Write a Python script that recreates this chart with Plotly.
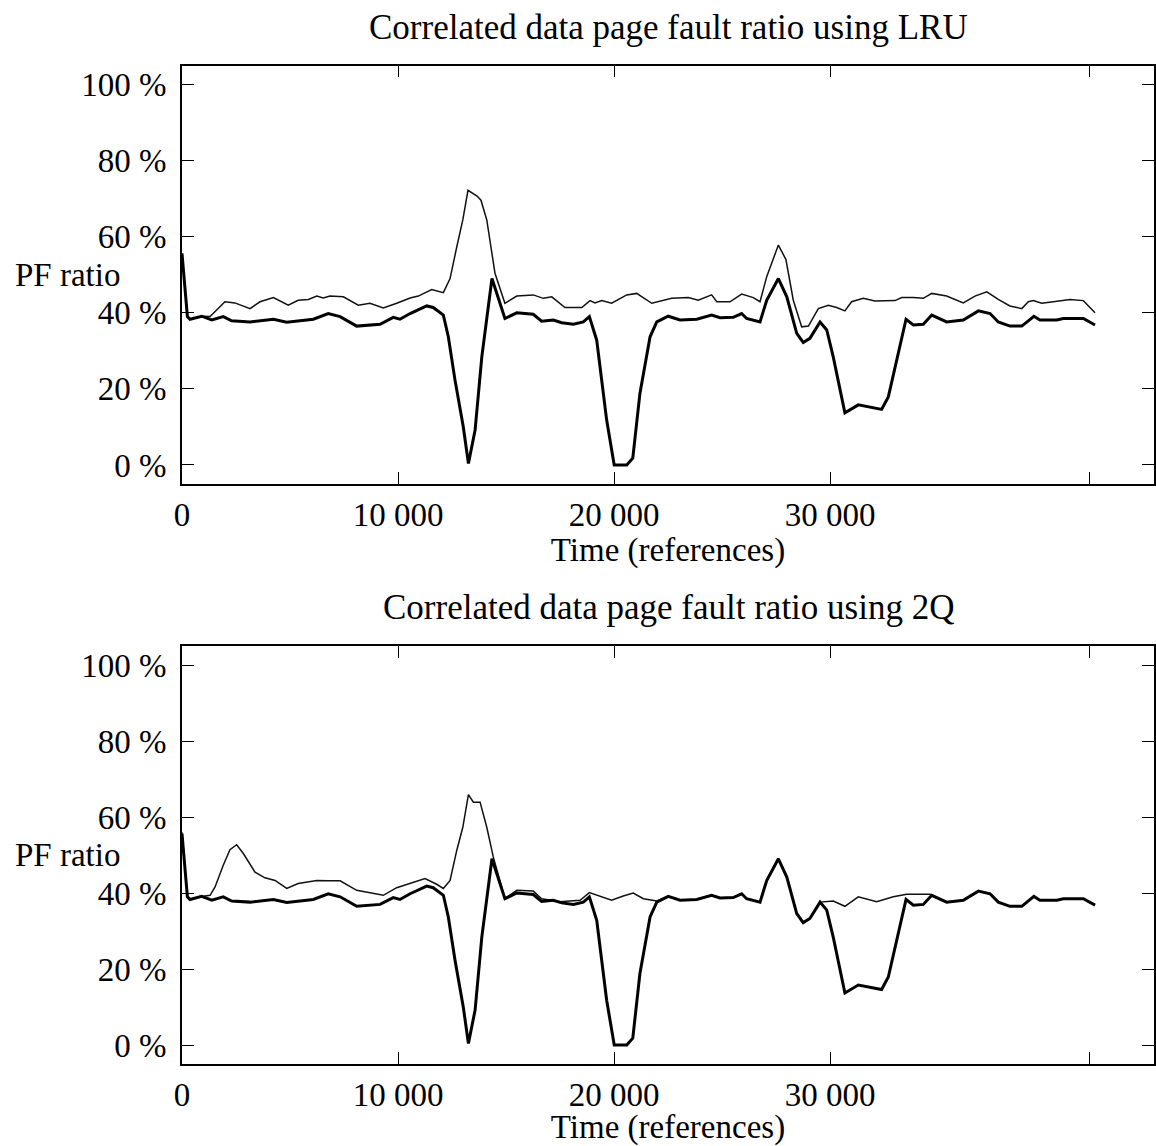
import plotly.graph_objects as go
from plotly.subplots import make_subplots

# ---------------- data ----------------
titles = ["Correlated data page fault ratio using LRU",
          "Correlated data page fault ratio using 2Q"]

# thick curve (same in both panels)
thick_t = [0, 250, 370, 910, 1380, 1910, 2300, 3150, 4230, 4850, 6080, 6770, 7320, 8090, 9170, 9780,
           10090, 10560, 11330, 11630, 12100, 12330, 12640, 13020, 13260, 13570, 13880, 14350, 14950,
           15500, 16260, 16650, 17190, 17580, 18120, 18580, 18860, 19200, 19660, 20010, 20590, 20870,
           21200, 21670, 21980, 22510, 23060, 23830, 24520, 24910, 25520, 25910, 26140, 26760, 27070,
           27610, 28000, 28460, 28760, 29070, 29540, 29850, 30150, 30690, 31310, 31850, 32390, 32700,
           33160, 33520, 33860, 34320, 34710, 35400, 36170, 36870, 37410, 37790, 38330, 38880, 39440,
           39720, 40500, 40800, 41730, 42270]
thick_pf = [55.6, 39.0, 38.3, 39.1, 38.1, 39.0, 37.9, 37.6, 38.3, 37.5, 38.3, 39.8, 39.0, 36.5, 37.0, 38.8,
            38.3, 39.8, 41.8, 41.4, 39.4, 33.7, 22.3, 10.1, 0.4, 9.2, 28.4, 49.0, 38.5,
            40.0, 39.6, 37.8, 38.1, 37.4, 37.0, 37.6, 39.0, 32.8, 11.8, 0.0, 0.0, 1.8,
            18.8, 33.7, 37.6, 39.1, 38.1, 38.3, 39.4, 38.7, 38.8, 39.8, 38.5, 37.6, 43.3,
            49.0, 44.2, 34.6, 32.2, 33.3, 37.6, 35.5, 28.4, 13.7, 15.8, 15.2, 14.6, 17.9,
            29.3, 38.3, 36.8, 37.0, 39.4, 37.6, 38.1, 40.5, 39.8, 37.6, 36.5, 36.5, 39.1,
            38.1, 38.1, 38.5, 38.5, 36.8]

# thin curve, LRU panel
lru_t = [0, 250, 370, 910, 1300, 1990, 2450, 3150, 3610, 4230, 4920, 5380, 5850, 6240, 6540, 6850,
         7470, 7780, 8160, 8700, 9320, 9940, 10560, 10940, 11560, 12100, 12410, 12720, 13000, 13240,
         13660, 13840, 14110, 14490, 14950, 15500, 16260, 16730, 17120, 17730, 18510, 18890, 19120,
         19430, 19890, 20590, 21050, 21750, 22670, 23440, 23900, 24520, 24760, 25370, 25910, 26450,
         26760, 27070, 27610, 27960, 28300, 28690, 29000, 29460, 29920, 30310, 30690, 31000, 31540,
         32080, 33010, 33320, 33860, 34320, 34710, 35400, 36170, 36710, 37260, 37790, 38330, 38880,
         39180, 39410, 39800, 40340, 41110, 41730, 42270]
lru_pf = [55.6, 39.0, 38.3, 39.1, 39.0, 42.9, 42.6, 41.1, 42.9, 44.0, 42.0, 43.3, 43.5, 44.4, 43.9, 44.4,
          44.2, 43.2, 42.0, 42.5, 41.3, 42.5, 43.9, 44.4, 46.1, 45.3, 49.0, 57.3, 64.4, 72.2,
          70.7, 69.6, 64.4, 50.4, 42.5, 44.4, 44.7, 43.8, 44.2, 41.4, 41.4, 43.2, 42.6,
          43.2, 42.5, 44.7, 45.1, 42.5, 43.8, 44.0, 43.3, 44.7, 42.9, 42.9, 44.9, 44.0,
          42.9, 49.5, 57.8, 54.0, 43.3, 36.3, 36.5, 41.1, 42.0, 41.4, 40.5, 42.9, 43.8,
          43.1, 43.2, 44.0, 44.0, 43.8, 45.1, 44.4, 42.6, 44.4, 45.5, 43.5, 41.8, 41.1,
          42.9, 43.2, 42.5, 42.9, 43.5, 43.2, 40.0]

# thin curve, 2Q panel
q2_t = [0, 250, 370, 910, 1300, 1530, 1910, 2220, 2530, 2840, 3380, 3840, 4310, 4850, 5380, 6240,
        6770, 7320, 8090, 8700, 9320, 9940, 10560, 11250, 11790, 12100, 12410, 12720, 13000, 13260,
        13490, 13800, 14110, 14410, 14950, 15500, 16260, 16650, 17500, 18430, 18860, 19350, 19890,
        20430, 20890, 21360, 21980, 22510, 23060, 23830, 24520, 24910, 25520, 25910, 26140, 26760,
        27070, 27610, 28000, 28460, 28760, 29070, 29540, 30150, 30690, 31310, 32160, 32930, 33550,
        34170, 34630, 34710, 35400, 36170, 36870, 37410, 37790, 38330, 38880, 39440, 39720, 40500,
        40800, 41730, 42270]
q2_pf = [56.0, 39.1, 38.3, 39.1, 39.4, 41.6, 47.3, 51.4, 52.7, 50.4, 45.5, 44.0, 43.3, 41.2, 42.5, 43.3,
         43.2, 43.2, 40.7, 40.0, 39.4, 41.4, 42.5, 43.8, 42.3, 41.2, 43.3, 51.2, 57.3, 65.9,
         63.9, 63.9, 57.3, 49.5, 38.5, 40.7, 40.5, 38.5, 37.7, 38.1, 40.1, 39.1, 38.1,
         39.2, 40.0, 38.5, 37.9, 39.1, 38.1, 38.3, 39.4, 38.7, 38.8, 39.8, 38.5, 37.6,
         43.3, 49.0, 44.2, 34.6, 32.2, 33.3, 37.6, 37.9, 36.5, 39.0, 37.7, 39.0, 39.7,
         39.7, 39.7, 39.4, 37.6, 38.1, 40.5, 39.8, 37.6, 36.5, 36.5, 39.1, 38.1, 38.1,
         38.5, 38.5, 36.8]

x_tickvals = [0, 10000, 20000, 30000, 42000]
x_ticktext = ["0", "10 000", "20 000", "30 000", ""]
y_tickvals = [0, 20, 40, 60, 80, 100]
y_ticktext = ["0 %", "20 %", "40 %", "60 %", "80 %", "100 %"]

# ---------------- figure ----------------
W, H = 1156, 1146
FONT = "Liberation Serif"
FS = 33
FS_TITLE = 35

fig = make_subplots(rows=2, cols=1, vertical_spacing=0.1)

for row, (tt, pp) in enumerate([(lru_t, lru_pf), (q2_t, q2_pf)], start=1):
    fig.add_trace(go.Scatter(x=tt, y=pp, mode="lines",
                             line=dict(color="#111111", width=1.5),
                             showlegend=False, hoverinfo="skip"), row=row, col=1)
    fig.add_trace(go.Scatter(x=thick_t, y=thick_pf, mode="lines",
                             line=dict(color="#000000", width=3),
                             showlegend=False, hoverinfo="skip"), row=row, col=1)

top_dom = [1 - 484 / H, 1 - 65.5 / H]
bot_dom = [1 - 1064 / H, 1 - 646 / H]

axis_common = dict(showline=True, linecolor="black", linewidth=1.8, mirror="ticks",
                   ticks="inside", ticklen=12, tickwidth=1.2, tickcolor="black",
                   showgrid=False, zeroline=False,
                   tickfont=dict(family=FONT, size=FS, color="black"))

for i, dom in zip([1, 2], [top_dom, bot_dom]):
    xa = "xaxis" if i == 1 else "xaxis2"
    ya = "yaxis" if i == 1 else "yaxis2"
    fig.layout[xa].update(range=[0, 45000], tickvals=x_tickvals, ticktext=x_ticktext,
                          ticklabelstandoff=0,
                          title=dict(text="Time (references)",
                                     font=dict(family=FONT, size=FS, color="black"),
                                     standoff=0),
                          **axis_common)
    fig.layout[ya].update(range=[-5, 105], domain=dom, tickvals=y_tickvals,
                          ticktext=y_ticktext, ticklabelstandoff=7, **axis_common)

annotations = []
for dom, title in zip([top_dom, bot_dom], titles):
    annotations.append(dict(text=title, xref="paper", yref="paper", x=0.5,
                            y=dom[1] + 38 / H, xanchor="center", yanchor="middle",
                            showarrow=False,
                            font=dict(family=FONT, size=FS_TITLE, color="black")))
    annotations.append(dict(text="PF ratio", xref="paper", yref="paper",
                            x=(122 - 182) / 972, y=dom[0] + (dom[1] - dom[0]) * (55 / 110),
                            xanchor="right", yanchor="middle", showarrow=False,
                            font=dict(family=FONT, size=FS, color="black")))

fig.update_layout(width=W, height=H, margin=dict(l=182, r=2, t=0, b=0),
                  paper_bgcolor="white", plot_bgcolor="white",
                  annotations=annotations,
                  font=dict(family=FONT, size=FS, color="black"))

fig.write_html("out.html")
